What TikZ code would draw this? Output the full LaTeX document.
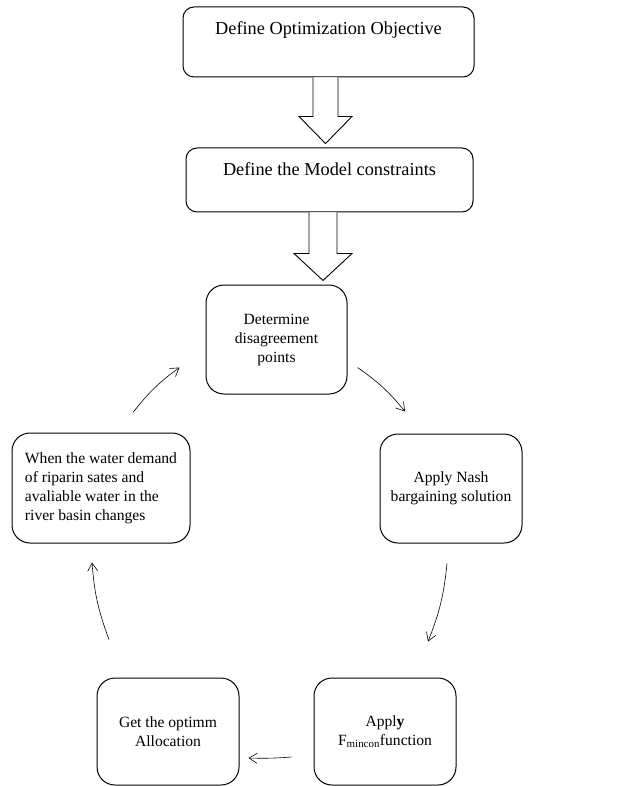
\documentclass[tikz,border=0pt]{standalone}
\usepackage{fontspec}
\setmainfont{Liberation Serif}
\usetikzlibrary{arrows.meta,calc}
\tikzset{
  stepnode/.style={draw,line width=1pt,rounded corners=18pt,align=center,
    inner sep=0pt,font=\fontsize{15.6}{19}\selectfont},
  topnode/.style 2 args={draw,line width=1pt,rounded corners=11pt,inner sep=0pt,
    minimum width=#1,text height=28pt,text depth=#2,font=\fontsize{18.3}{21}\selectfont},
  blockarrow/.style={draw,line width=0.9pt,fill=white,line join=miter},
  cyclearrow/.style={line width=0.6pt,-{Straight Barb[length=8pt,width=10pt]}}
}
% #1 from node, #2 to node, #3 x centre, #4 shaft half width, #5 head half width
\newcommand{\blockarrow}[5]{%
  \draw[blockarrow] let \p1=(#1.south), \p2=(#2.north) in
    ({#3pt-#4pt},\y1) -- ({#3pt-#4pt},\y2+31pt) -- ({#3pt-#5pt},\y2+31pt)
    -- (#3pt,\y2+4pt) -- ({#3pt+#5pt},\y2+31pt) -- ({#3pt+#4pt},\y2+31pt)
    -- ({#3pt+#4pt},\y1);
}

\begin{document}
\begin{tikzpicture}[x=1pt,y=-1pt]
  \useasboundingbox (0,0) rectangle (617,786);

  \node[topnode={291pt}{42pt}] (objective) at (328.5,42) {Define Optimization Objective};
  \node[topnode={287pt}{36pt}] (constraints) at (329.5,180) {Define the Model constraints};

  \node[stepnode,minimum width=141pt,minimum height=109pt] (disagree) at (276.5,339.5)
    {Determine\\disagreement\\points};
  \node[stepnode,align=left,minimum width=178pt,minimum height=110pt] (change) at (101,488)
    {When the water demand\\of riparin sates and\\avaliable water in the\\river basin changes};
  \node[stepnode,minimum width=142pt,minimum height=109pt] (nash) at (451,488.5)
    {Apply Nash\\bargaining solution};
  \node[stepnode,minimum width=142pt,minimum height=107pt] (alloc) at (168,731.5)
    {Get the optimm\\Allocation};
  \node[stepnode,minimum width=142pt,minimum height=107pt] (fmincon) at (385,731.5)
    {Appl\textbf{y}\\F\textsubscript{mincon}function};

  % block arrows
  \blockarrow{objective}{constraints}{325.5}{12.5}{26.5}
  \blockarrow{constraints}{disagree}{323}{14}{29}

  % cycle
  \draw[cyclearrow] ([shift={(10,-27)}]disagree.south east) to[bend left=8]
    ([shift={(-46,-22)}]nash.north);
  \draw[cyclearrow] ([shift={(-4,20)}]nash.south) to[bend left=8]
    ([shift={(43,-36)}]fmincon.north);
  \draw[cyclearrow] ([shift={(-22,25.5)}]fmincon.west) to[bend left=3]
    ([shift={(9,26.5)}]alloc.east);
  \draw[cyclearrow] ([shift={(-59,-38)}]alloc.north) to[bend left=8]
    ([shift={(-9,19)}]change.south);
  \draw[cyclearrow] ([shift={(32,-20)}]change.north) to[bend left=8]
    ([shift={(-26,-27)}]disagree.south west);
\end{tikzpicture}
\end{document}
